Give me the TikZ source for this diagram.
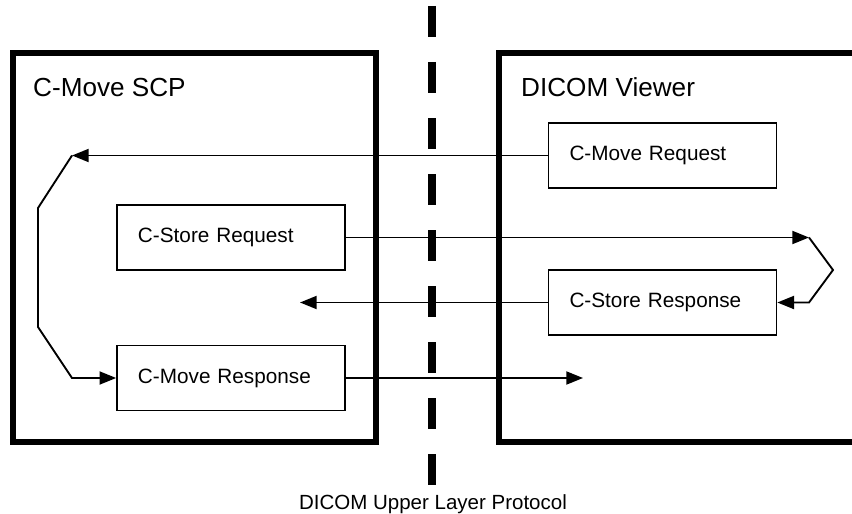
\documentclass[tikz,border=0pt]{standalone}
\usepackage{fontspec}
\setmainfont{Liberation Sans}
\usepackage{tikz}
\usetikzlibrary{arrows.meta, positioning}

\begin{document}
\begin{tikzpicture}[x=0.03cm, y=-0.03cm,
	sysbox/.style={draw, line width=4.3pt},
	syslabel/.style={anchor=base west, inner sep=0pt, font=\fontsize{22.3}{26}\selectfont},
	msgbox/.style={draw, line width=1.4pt, text width=5.58cm, align=left, inner xsep=0.63cm, minimum height=1.95cm, font=\fontsize{17.7}{21}\selectfont},
	msg/.style={line width=1.6pt, -{Triangle[length=0.5cm, width=0.39cm]}},
	layer/.style={line width=6.8pt, dash pattern=on 0.93cm off 0.75cm}]
	\useasboundingbox (0,0) rectangle (852,514);
	\clip (0,0) rectangle (852,514);

	% the two sides
	\draw[sysbox] (13,53) rectangle (376,442);
	\draw[sysbox] (499,53) rectangle (880,442);
	\node[syslabel] (scp) at (33,97) {C-Move SCP};
	\node[syslabel] (viewer) at (521,97) {DICOM Viewer};

	% upper layer boundary
	\coordinate (ultop) at (432,6);
	\coordinate (ulbot) at (432,487);
	\draw[layer] (ultop) -- (ulbot);
	\node[anchor=base, inner sep=0pt, font=\fontsize{17.5}{21}\selectfont] (ulp) at (433,509) {DICOM Upper Layer Protocol};

	% messages
	\node[msgbox] (cmreq) at (662.5,155.5) {C-Move Request};
	\node[msgbox] (cstreq) at (231,237.5) {C-Store Request};
	\node[msgbox] (cstres) at (662.5,302.5) {C-Store Response};
	\node[msgbox] (cmres) at (231,378) {C-Move Response};

	\coordinate (la) at (72,155.5);
	\coordinate (lb) at (38,208);
	\coordinate (lc) at (38,327);
	\coordinate (ld) at (72,378);
	\draw[msg] (cmreq.west) -- (la);
	\draw[msg] (la) -- (lb) -- (lc) -- (ld) -- (cmres.west);

	\coordinate (ra) at (809,237.5);
	\coordinate (rb) at (833,270);
	\coordinate (rc) at (809,302.5);
	\draw[msg] (cstreq.east) -- (ra);
	\draw[msg] (ra) -- (rb) -- (rc) -- (cstres.east);

	\coordinate (resend) at (300,302.5);
	\coordinate (moveend) at (583,378);
	\draw[msg] (cstres.west) -- (resend);
	\draw[msg] (cmres.east) -- (moveend);
\end{tikzpicture}
\end{document}
